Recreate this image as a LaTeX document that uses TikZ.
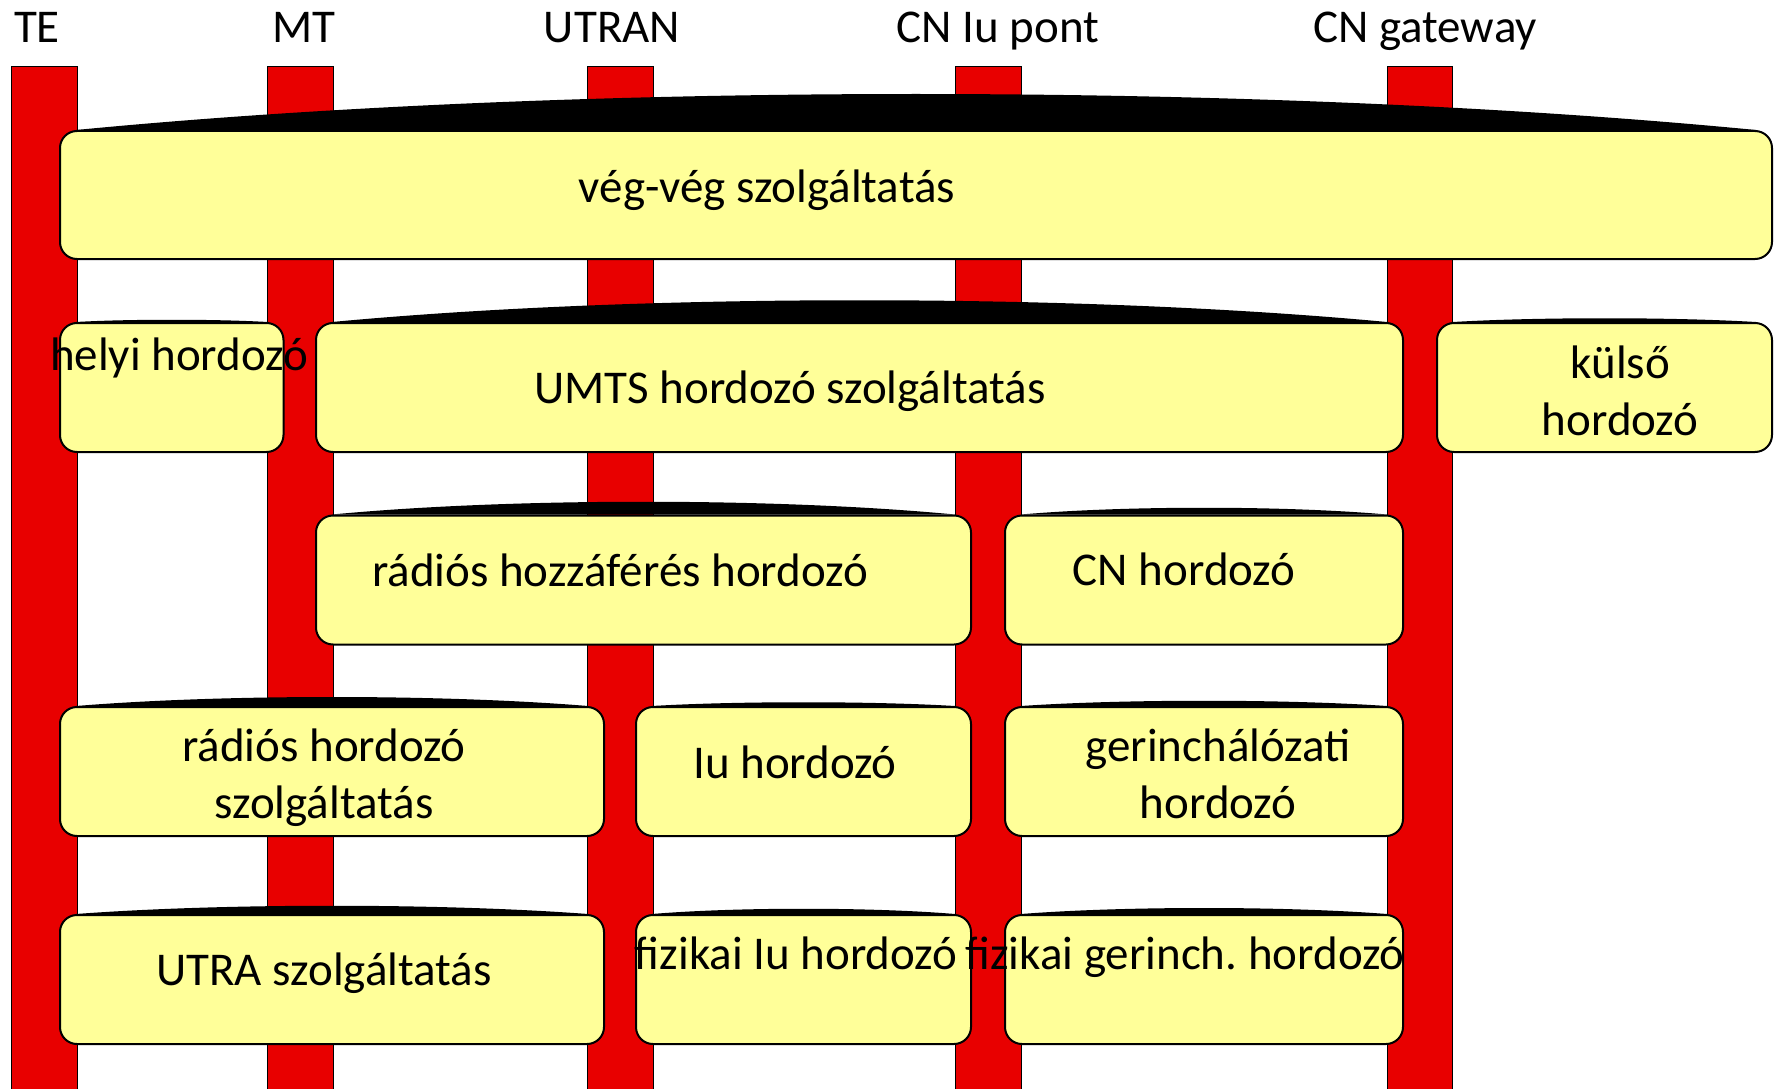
\documentclass[tikz,border=0pt]{standalone}
\usepackage{fontspec}
\setmainfont{Carlito}
\usetikzlibrary{positioning, calc}
\definecolor{barred}{RGB}{232,0,0}
\definecolor{boxyellow}{RGB}{255,255,153}
\newcommand{\boxcap}[2]{\fill ([xshift=17pt]#1.north west) .. controls ($(#1.north west)!.3!(#1.north east)+(0,-#2)$) and ($(#1.north west)!.7!(#1.north east)+(0,-#2)$) .. ([xshift=-17pt]#1.north east) -- cycle;}

\begin{document}
\begin{tikzpicture}[x=1pt, y=-1pt,
    bar/.style={draw=black, line width=1pt, fill=barred},
    box/.style={draw=black, line width=2pt, fill=boxyellow, rounded corners=17pt, inner sep=0pt, minimum height=129pt},
    lbl/.style={font=\fontsize{47}{57}\selectfont, inner sep=0pt, anchor=base, align=center}]

    \useasboundingbox (0,0) rectangle (1781,1089);

    % bars
    \draw[bar] (11,67) rectangle (77,1100);
    \draw[bar] (267,67) rectangle (333,1100);
    \draw[bar] (587,67) rectangle (653,1100);
    \draw[bar] (955,67) rectangle (1021,1100);
    \draw[bar] (1387,67) rectangle (1452,1100);

    \node[lbl] (TE) at (37,43) {TE};
    \node[lbl] (MT) at (304,43) {MT};
    \node[lbl] (UTRAN) at (612,43) {UTRAN};
    \node[lbl] (CNIu) at (998,43) {CN Iu pont};
    \node[lbl] (CNgw) at (1425,43) {CN gateway};

    % boxes
    \node[box, minimum width=1712pt, minimum height=128pt] (veg) at (916,195) {};
    \node[box, minimum width=223.5pt] (helyi) at (171.75,387.5) {};
    \node[box, minimum width=1087pt] (umts) at (859.5,387.5) {};
    \node[box, minimum width=335pt] (kulso) at (1604.5,387.5) {};
    \node[box, minimum width=655pt] (rhoz) at (643.5,580) {};
    \node[box, minimum width=398pt] (cnh) at (1204,580) {};
    \node[box, minimum width=544pt] (rhsz) at (332,771.5) {};
    \node[box, minimum width=335pt] (iuh) at (803.5,771.5) {};
    \node[box, minimum width=398pt] (gerh) at (1204,771.5) {};
    \node[box, minimum width=544pt] (utra) at (332,979.5) {};
    \node[box, minimum width=335pt] (fiziu) at (803.5,979.5) {};
    \node[box, minimum width=398pt] (fizger) at (1204,979.5) {};

    % caps
    \boxcap{veg}{48}
    \boxcap{helyi}{3}
    \boxcap{umts}{29}
    \boxcap{kulso}{5}
    \boxcap{rhoz}{17}
    \boxcap{cnh}{9}
    \boxcap{rhsz}{12}
    \boxcap{iuh}{5}
    \boxcap{gerh}{7}
    \boxcap{utra}{11}
    \boxcap{fiziu}{7}
    \boxcap{fizger}{8}

    % texts
    \node[lbl] (vegT) at (767,202) {vég-vég szolgáltatás};
    \node[lbl] (helyiT) at (179,370) {helyi hordozó};
    \node[lbl] (umtsT) at (790,403) {UMTS hordozó szolgáltatás};
    \node[lbl] (kulsoT) at (1620,435) {külső\\hordozó};
    \node[lbl] (rhozT) at (620,586) {rádiós hozzáférés hordozó};
    \node[lbl] (cnhT) at (1184,585) {CN hordozó};
    \node[lbl] (rhszT) at (324,818) {rádiós hordozó\\szolgáltatás};
    \node[lbl] (iuhT) at (795,778) {Iu hordozó};
    \node[lbl] (gerhT) at (1218,818) {gerinchálózati\\hordozó};
    \node[lbl] (utraT) at (324,985) {UTRA szolgáltatás};
    \node[lbl] (fiziuT) at (796,969) {fizikai Iu hordozó};
    \node[lbl] (fizgerT) at (1185,969) {fizikai gerinch.\ hordozó};
\end{tikzpicture}
\end{document}
